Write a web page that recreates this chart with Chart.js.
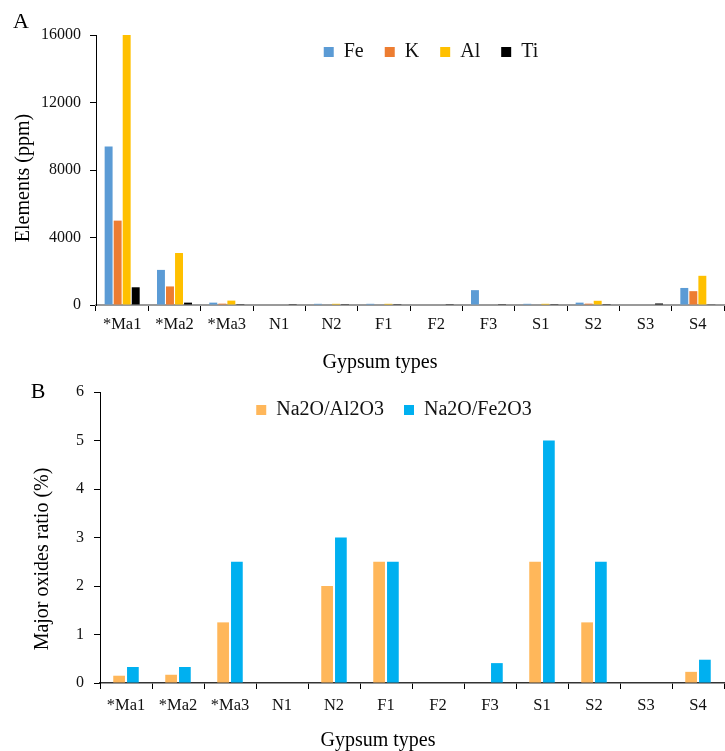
<!DOCTYPE html>
<html>
<head>
<meta charset="utf-8">
<script src="https://cdn.jsdelivr.net/npm/chart.js@4/dist/chart.umd.min.js"></script>
<style>
  html, body { margin: 0; padding: 0; background: #fff; }
  #wrap { position: relative; width: 725px; height: 751px; }
  canvas { position: absolute; left: 0; }
  #chartA { top: 0; }
  #chartB { top: 378px; }
</style>
</head>
<body>
<div id="wrap">
  <canvas id="chartA" width="725" height="378"></canvas>
  <canvas id="chartB" width="725" height="373"></canvas>
</div>
<script>
// categorias (tipos de yeso)
const gypsumTypes = ['*Ma1', '*Ma2', '*Ma3', 'N1', 'N2', 'F1', 'F2', 'F3', 'S1', 'S2', 'S3', 'S4'];

// panel A - elementos (ppm)
const fe = [9400, 2080, 140, 0, 70, 70, 0, 880, 70, 140, 0, 1010];
const k  = [5000, 1100, 80, 0, 0, 0, 0, 0, 0, 80, 0, 820];
const al = [16000, 3080, 260, 0, 70, 70, 0, 0, 70, 250, 0, 1730];
const ti = [1050, 140, 50, 50, 50, 50, 50, 50, 50, 50, 90, 40];
const elementTicks = [0, 4000, 8000, 12000, 16000];

// panel B - relacion de oxidos (%)
const na2oAl2o3 = [0.15, 0.17, 1.25, 0, 2, 2.5, 0, 0, 2.5, 1.25, 0, 0.23];
const na2oFe2o3 = [0.33, 0.33, 2.5, 0, 3, 2.5, 0, 0.41, 5, 2.5, 0, 0.48];
const ratioTicks = [0, 1, 2, 3, 4, 5, 6];

const serif = 'Liberation Serif';

// mueve la leyenda dentro del area del grafico
const legendShift = {
    id: 'legendShift',
    afterLayout(chart, args, opts) {
        const lg = chart.legend;
        lg.left += opts.dx;
        lg.right += opts.dx;
        lg.top = opts.top;
        lg.bottom = opts.top + 40;
        lg.height = 40;
    }
};

// textos sueltos: letra del panel y titulos de ejes
const captions = {
    id: 'captions',
    afterDraw(chart, args, opts) {
        const ctx = chart.ctx;
        opts.texts.forEach(t => {
            ctx.save();
            ctx.font = t.font;
            ctx.fillStyle = '#000';
            ctx.textAlign = 'center';
            ctx.textBaseline = 'middle';
            ctx.translate(t.x, t.y);
            if (t.rotate) ctx.rotate(t.rotate);
            ctx.fillText(t.text, 0, 0);
            ctx.restore();
        });
    }
};

function xAxis(height, borderColor, borderWidth, pad) {
    return {
        afterFit: s => { s.height = height; },
        grid: { display: true, drawOnChartArea: false, drawTicks: true, tickLength: 6, color: '#000', offset: true },
        border: { color: borderColor, width: borderWidth },
        ticks: { color: '#111', padding: pad, font: { family: serif, size: 16.5 } }
    };
}

function yAxis(width, max, tickList, pad) {
    return {
        min: 0,
        max: max,
        afterFit: s => { s.width = width; s.paddingTop = 0; s.paddingBottom = 0; },
        afterBuildTicks: s => { s.ticks = tickList.map(v => ({ value: v })); },
        grid: { drawOnChartArea: false, tickLength: 6, color: '#000' },
        border: { color: '#000', width: 1 },
        ticks: { color: '#111', padding: pad, font: { family: serif, size: 16 }, callback: v => String(v) }
    };
}

// Grafico A: elementos
const chartA = new Chart(document.getElementById('chartA'), {
    type: 'bar',
    data: {
        labels: gypsumTypes,
        datasets: [
            { label: 'Fe', data: fe, backgroundColor: '#5B9BD5' },
            { label: 'K', data: k, backgroundColor: '#ED7D31' },
            { label: 'Al', data: al, backgroundColor: '#FFC000' },
            { label: 'Ti', data: ti, backgroundColor: '#000000' }
        ]
    },
    options: {
        responsive: false,
        animation: false,
        layout: { padding: { top: 34, right: 1, left: 0, bottom: 0 } },
        datasets: { bar: { categoryPercentage: 0.69, barPercentage: 0.88, borderWidth: 0 } },
        plugins: {
            legend: {
                position: 'top',
                maxHeight: 1,
                labels: { boxWidth: 10, boxHeight: 10, padding: 21, color: '#111', font: { family: serif, size: 20 } }
            },
            tooltip: { enabled: false },
            legendShift: { dx: 69, top: 21 },
            captions: {
                texts: [
                    { text: 'A', x: 21, y: 22, font: '22px ' + serif },
                    { text: 'Gypsum types', x: 380, y: 363, font: '20px ' + serif },
                    { text: 'Elements (ppm)', x: 24, y: 178, font: '20px ' + serif, rotate: -Math.PI / 2 }
                ]
            }
        },
        scales: {
            x: xAxis(73, '#9a9a9a', 2, 4),
            y: yAxis(96, 16000, elementTicks, 9)
        }
    },
    plugins: [legendShift, captions]
});

// Grafico B: relacion de oxidos mayores
const chartB = new Chart(document.getElementById('chartB'), {
    type: 'bar',
    data: {
        labels: gypsumTypes,
        datasets: [
            { label: 'Na2O/Al2O3', data: na2oAl2o3, backgroundColor: '#FFB75A' },
            { label: 'Na2O/Fe2O3', data: na2oFe2o3, backgroundColor: '#00B0F0' }
        ]
    },
    options: {
        responsive: false,
        animation: false,
        layout: { padding: { top: 13, right: 1, left: 0, bottom: 0 } },
        datasets: { bar: { categoryPercentage: 0.53, barPercentage: 0.85, borderWidth: 0 } },
        plugins: {
            legend: {
                position: 'top',
                maxHeight: 1,
                labels: { boxWidth: 10, boxHeight: 10, padding: 20, color: '#111', font: { family: serif, size: 20 } }
            },
            tooltip: { enabled: false },
            legendShift: { dx: 32, top: 2 },
            captions: {
                texts: [
                    { text: 'B', x: 38, y: 14, font: '22px ' + serif },
                    { text: 'Gypsum types', x: 378, y: 363, font: '20px ' + serif },
                    { text: 'Major oxides ratio (%)', x: 43, y: 181, font: '20px ' + serif, rotate: -Math.PI / 2 }
                ]
            }
        },
        scales: {
            x: xAxis(68, '#333', 1.5, 7),
            y: yAxis(100, 6, ratioTicks, 10)
        }
    },
    plugins: [legendShift, captions]
});
</script>
</body>
</html>
